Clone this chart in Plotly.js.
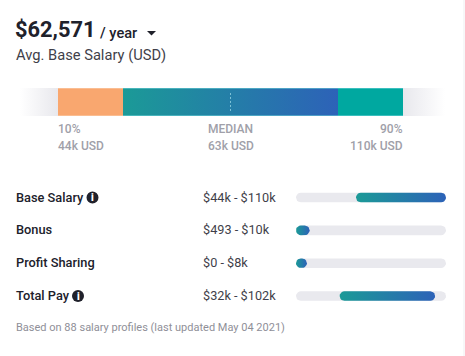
<!DOCTYPE html>
<html><head><meta charset="utf-8">
<script src="https://cdn.plot.ly/plotly-3.0.0.min.js"></script>
<style>html,body{margin:0;padding:0;background:#fff}#c{width:465px;height:356px}</style>
</head><body><div id="c"></div>
<script>
// ---- data ----
const headline = "$62,571";
const period = "/ year";
const subtitle = "Avg. Base Salary (USD)";
const bandEdges = [0, 38, 103, 318, 383, 425];   // widths along the band axis
const bandLabels = ["10%", "MEDIAN", "90%"];
const bandValues = ["44k USD", "63k USD", "110k USD"];
const medianPos = 210.5;
const rows = ["Base Salary", "Bonus", "Profit Sharing", "Total Pay"];
const rowLow = [44, 0, 0, 32];   // k USD, as the bars start
const rowHigh = [110, 10, 8, 102];   // k USD
const rowRange = ["$44k - $110k", "$493 - $10k", "$0 - $8k", "$32k - $102k"];
const rowMax = 110;
const footnote = "Based on 88 salary profiles (last updated May 04 2021)";

// ---- geometry ----
const W = 465, H = 356;
const px = x => x / W, py = y => 1 - y / H;
const font = "Roboto, sans-serif";
const TRACK_L = 296, TRACK_R = 446, ROW_TOP = 197.5, ROW_STEP = 32.85, BAR_H = 9.6;
const BAND_L = 20, BAND_R = 445, BAND_T = 88, BAND_B = 116;
const rowY = i => ROW_TOP + i * ROW_STEP;

const gradA = "#1b9a97", gradB = "#2d62b8";
const traces = [];
function rect(a, b, fill, grad) {
  const t = {type:"scatter", mode:"lines", xaxis:"x", yaxis:"y", hoverinfo:"skip", showlegend:false,
    x:[a,b,b,a,a], y:[0,0,1,1,0], fill:"toself", line:{width:0}};
  if (grad) t.fillgradient = {type:"horizontal", colorscale:[[0,grad[0]],[1,grad[1]]]};
  else t.fillcolor = fill;
  traces.push(t);
}
rect(bandEdges[0], bandEdges[1], null, ["#ffffff", "#e8e8ed"]);
rect(bandEdges[1], bandEdges[2], "#f9a76f");
rect(bandEdges[2], bandEdges[3], null, [gradA, gradB]);
rect(bandEdges[3], bandEdges[4], "#00a8a0");
rect(bandEdges[4], bandEdges[5], null, ["#e8e8ed", "#ffffff"]);
// light edge above and below the coloured band
[0,1].forEach(v => traces.push({type:"scatter", mode:"lines", xaxis:"x", yaxis:"y", hoverinfo:"skip", showlegend:false,
  x:[bandEdges[2], bandEdges[4]], y:[v,v], line:{color:"#74d6dc", width:1}}));
[0,1].forEach(v => traces.push({type:"scatter", mode:"lines", xaxis:"x", yaxis:"y", hoverinfo:"skip", showlegend:false,
  x:[bandEdges[1], bandEdges[2]], y:[v,v], line:{color:"#fbd3b5", width:1}}));
// median marker
traces.push({type:"scatter", mode:"lines", xaxis:"x", yaxis:"y", hoverinfo:"skip", showlegend:false,
  x:[medianPos, medianPos], y:[0.18,0.82], line:{color:"#7fc3d8", width:1, dash:"2px 2px"}});

// capsules on the USD axis
const kPerPx = rowMax / (TRACK_R - TRACK_L);
function capsule(lo, hi, i, fill, grad) {
  const r = BAR_H / 2, xs = [], ys = [], N = 10;
  const rowsPerPx = 1 / ROW_STEP;
  for (let k = 0; k <= N; k++) { const a = -Math.PI/2 + Math.PI*k/N;
    xs.push(hi - r*(1-Math.cos(a))*kPerPx); ys.push(i + r*Math.sin(a)*rowsPerPx); }
  for (let k = 0; k <= N; k++) { const a = Math.PI/2 + Math.PI*k/N;
    xs.push(lo + r*(1+Math.cos(a))*kPerPx); ys.push(i + r*Math.sin(a)*rowsPerPx); }
  xs.push(xs[0]); ys.push(ys[0]);
  const t = {type:"scatter", mode:"lines", xaxis:"x2", yaxis:"y2", hoverinfo:"skip", showlegend:false,
    x:xs, y:ys, fill:"toself", line:{width:0}};
  if (grad) t.fillgradient = {type:"horizontal", colorscale:[[0,grad[0]],[1,grad[1]]]};
  else t.fillcolor = fill;
  traces.push(t);
}
rows.forEach((_, i) => capsule(0, rowMax, i, "#e9e9ee"));
rows.forEach((_, i) => capsule(rowLow[i], rowHigh[i], i, null, [gradA, gradB]));

// ---- text ----
const ann = [];
function T(text, x, y, size, color, anchor, weight) {
  ann.push({text, x:px(x), y:py(y), xref:"paper", yref:"paper", xanchor:anchor||"left", yanchor:"middle",
    showarrow:false, borderpad:0, borderwidth:0,
    font:{family:font, size, color, weight:weight||400}});
}
const DARK = "#20212b", MID = "#3f3f4a", GREY = "#a0a0a9";
T(headline, 15, 30, 21.8, DARK, "left", 700);
T(period, 100, 33, 14.6, DARK, "left", 500);
T(subtitle, 15.5, 55, 14.7, MID, "left", 400);
T(bandLabels[0], 58, 129, 12, GREY, "left", 500);
T(bandValues[0], 58, 146, 12, GREY, "left", 500);
T(bandLabels[1], 230.5, 129, 12, GREY, "center", 500);
T(bandValues[1], 230.5, 146, 12, GREY, "center", 500);
T(bandLabels[2], 403, 129, 12, GREY, "right", 500);
T(bandValues[2], 403, 146, 12, GREY, "right", 500);
rows.forEach((r, i) => {
  T(r, 15.5, rowY(i) - 0.5, 12.8, DARK, "left", 500);
  T(rowRange[i], 202.5, rowY(i) - 0.5, 12.7, MID, "left", 400);
});
T(footnote, 15.5, 327, 11, "#8f8f98", "left", 400);

const iconAt = [[92.5, rowY(0)], [78, rowY(3)]];
const shapes = iconAt.map(([x, y]) => ({type:"circle", xref:"paper", yref:"paper",
  x0:px(x-6), x1:px(x+6), y0:py(y+6), y1:py(y-6), fillcolor:DARK, line:{width:0}}));
iconAt.forEach(([x, y]) => T("i", x, y, 10, "#ffffff", "center", 900));
shapes.push({type:"path", xref:"paper", yref:"paper",
  path:`M ${px(147)} ${py(31)} L ${px(156)} ${py(31)} L ${px(151.5)} ${py(35.5)} Z`, fillcolor:DARK, line:{width:0}});
shapes.push({type:"line", xref:"paper", yref:"paper", x0:px(464), x1:px(464), y0:0, y1:1, line:{color:"#efeff1", width:1}});

const hidden = {visible:false, fixedrange:true, showgrid:false, zeroline:false};
Plotly.newPlot("c", traces, {
  width:W, height:H, margin:{l:0,r:0,t:0,b:0}, paper_bgcolor:"#fff", plot_bgcolor:"rgba(0,0,0,0)", showlegend:false,
  xaxis:{...hidden, domain:[px(BAND_L), px(BAND_R)], range:[bandEdges[0], bandEdges[5]]},
  yaxis:{...hidden, domain:[py(BAND_B), py(BAND_T)], range:[0,1]},
  xaxis2:{...hidden, domain:[px(TRACK_L), px(TRACK_R)], range:[0, rowMax]},
  yaxis2:{...hidden, domain:[py(rowY(3)+ROW_STEP/2), py(rowY(0)-ROW_STEP/2)], range:[rows.length-0.5, -0.5]},
  annotations:ann, shapes
}, {displayModeBar:false, staticPlot:true});
</script></body></html>
